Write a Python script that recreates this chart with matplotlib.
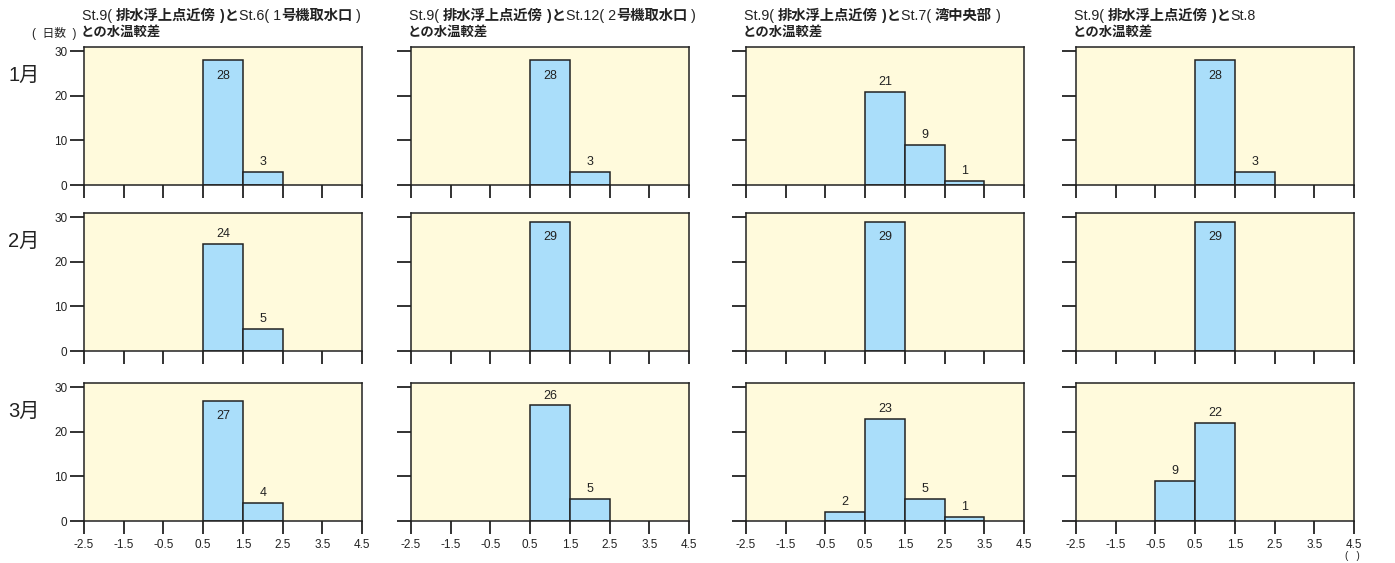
import matplotlib
matplotlib.use("Agg")
import matplotlib.pyplot as plt
import numpy as np

plt.rcParams['font.family'] = ['Liberation Sans', 'Noto Sans CJK JP']

bin_centers = [-2, -1, 0, 1, 2, 3, 4]
x_ticks = [-2.5, -1.5, -0.5, 0.5, 1.5, 2.5, 3.5, 4.5]
x_tick_labels = ["-2.5", "-1.5", "-0.5", "0.5", "1.5", "2.5", "3.5", "4.5"]
y_ticks = [0, 10, 20, 30]
months = ["1月", "2月", "3月"]
# title line 1 as (text, bold) segments
titles_line1 = [
    [("St.9( ", False), ("排水浮上点近傍", True), (" )と", True), ("St.6( 1", False), ("号機取水口", True), (" )", False)],
    [("St.9( ", False), ("排水浮上点近傍", True), (" )と", True), ("St.12( 2", False), ("号機取水口", True), (" )", False)],
    [("St.9( ", False), ("排水浮上点近傍", True), (" )と", True), ("St.7( ", False), ("湾中央部", True), (" )", False)],
    [("St.9( ", False), ("排水浮上点近傍", True), (" )と", True), ("St.8", False)],
]
title_line2 = "との水温較差"

# counts[row(month)] per bin center, one table per station
st6 = [[0, 0, 0, 28, 3, 0, 0], [0, 0, 0, 24, 5, 0, 0], [0, 0, 0, 27, 4, 0, 0]]
st12 = [[0, 0, 0, 28, 3, 0, 0], [0, 0, 0, 29, 0, 0, 0], [0, 0, 0, 26, 5, 0, 0]]
st7 = [[0, 0, 0, 21, 9, 1, 0], [0, 0, 0, 29, 0, 0, 0], [0, 0, 2, 23, 5, 1, 0]]
st8 = [[0, 0, 0, 28, 3, 0, 0], [0, 0, 0, 29, 0, 0, 0], [0, 0, 9, 22, 0, 0, 0]]
stations = [st6, st12, st7, st8]

W, H = 1395, 563
fig = plt.figure(figsize=(W / 100, H / 100), dpi=100)
renderer = fig.canvas.get_renderer()

col_left = [84, 411, 746, 1076]
col_w = 278
row_top = [47, 213, 383]
row_h = 138

bg = "#fffadc"
bar_c = "#aadefa"
ink = "#222222"

for r in range(3):
    for c in range(4):
        l = col_left[c] / W
        b = 1 - (row_top[r] + row_h) / H
        ax = fig.add_axes([l, b, col_w / W, row_h / H])
        ax.set_facecolor(bg)
        counts = stations[c][r]
        xs = [x for x, v in zip(bin_centers, counts) if v > 0]
        vs = [v for v in counts if v > 0]
        ax.bar(xs, vs, width=1.0, color=bar_c, edgecolor=ink, linewidth=1.1, zorder=2)
        for x, v in zip(xs, vs):
            if v >= 27:
                ax.annotate(str(v), (x, v), xytext=(0, -11), textcoords='offset points',
                            ha='center', va='center', fontsize=9, color=ink)
            else:
                ax.annotate(str(v), (x, v), xytext=(0, 7), textcoords='offset points',
                            ha='center', va='center', fontsize=9, color=ink)
        ax.set_xlim(-2.5, 4.5)
        ax.set_ylim(0, 31)
        ax.set_xticks(x_ticks)
        ax.set_yticks(y_ticks)
        if r == 2:
            ax.set_xticklabels(x_tick_labels)
        else:
            ax.set_xticklabels([])
        if c == 0:
            ax.set_yticklabels([str(v) for v in y_ticks])
        else:
            ax.set_yticklabels([])
        ax.tick_params(axis='x', direction='out', length=9, width=1.3, colors=ink,
                       labelsize=8.5, pad=4)
        ax.tick_params(axis='y', direction='out', length=10, width=1.3, colors=ink,
                       labelsize=8.5, pad=2)
        for s in ax.spines.values():
            s.set_color(ink)
            s.set_linewidth(1.1)
        if r == 0:
            xpix = col_left[c] - 2
            for seg, bold in titles_line1[c]:
                t = fig.text(xpix / W, 1 - 16 / H, seg, fontsize=10.3,
                             fontweight='bold' if bold else 'normal',
                             ha='left', va='center', color=ink)
                xpix += t.get_window_extent(renderer).width
            fig.text((col_left[c] - 3) / W, 1 - 32 / H, title_line2, fontsize=9.6,
                     fontweight='bold', ha='left', va='center', color=ink)
        if c == 0:
            fig.text(8 / W, 1 - (row_top[r] + 28) / H, months[r], fontsize=14.5,
                     ha='left', va='center', color=ink)

fig.text(32 / W, 1 - 33 / H, "(  日数  )", fontsize=8.5, ha='left', va='center', color=ink)
fig.text(1352 / W, 1 - 556 / H, "(   )", fontsize=7, ha='center', va='center', color=ink)

fig.savefig("out.png", dpi=100)
